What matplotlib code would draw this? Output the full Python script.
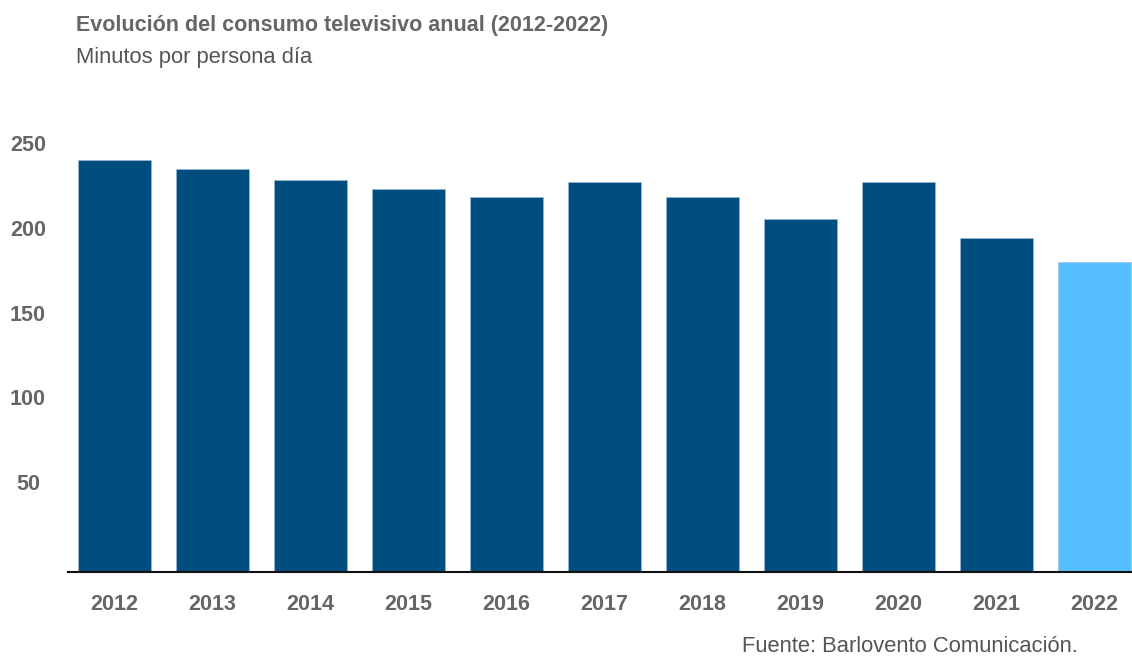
import matplotlib
matplotlib.use("Agg")
from matplotlib import pyplot as plt
import matplotlib.transforms as mtransforms

# data
years = ["2012", "2013", "2014", "2015", "2016", "2017", "2018", "2019", "2020", "2021", "2022"]
minutes = [243, 238, 231, 226, 221, 230, 221, 208, 230, 197, 183]
y_ticks = [50, 100, 150, 200, 250]

dark_blue = "#004e80"
light_blue = "#56bfff"
grey = "#666666"

plt.rcParams["font.family"] = ["Liberation Sans", "DejaVu Sans"]

fig = plt.figure(figsize=(11.32, 6.58), dpi=100)
ax = fig.add_axes([0.060, 0.1307, 0.940, 0.6698])

colors = [dark_blue] * (len(years) - 1) + [light_blue]
x = list(range(len(years)))
ax.bar(x, minutes, width=0.745, color=colors, edgecolor="#9fbcd4", linewidth=0.4)

ax.set_xlim(-0.474, 10.383)
ax.set_ylim(0, 260)
ax.set_xticks(x)
ax.set_xticklabels(years, fontsize=15.5, fontweight="bold", color=grey)
ax.set_yticks(y_ticks)
ax.set_yticklabels([str(v) for v in y_ticks], fontsize=15.5, fontweight="bold", color=grey)
ax.tick_params(axis="both", length=0)
ax.tick_params(axis="x", pad=16)
ax.tick_params(axis="y", pad=0)
# y labels are centred about 40px left of the axis, a little above their value
for lbl in ax.get_yticklabels():
    lbl.set_horizontalalignment("center")
    lbl.set_transform(lbl.get_transform() + mtransforms.ScaledTranslation(-0.40, 0.05, fig.dpi_scale_trans))

for s in ["top", "right", "left"]:
    ax.spines[s].set_visible(False)
ax.spines["bottom"].set_linewidth(1.5)
ax.spines["bottom"].set_color("#111111")

fig.text(76 / 1132, 1 - 25 / 658, "Evolución del consumo televisivo anual (2012-2022)",
         fontsize=15.5, fontweight="bold", color=grey, va="center", ha="left")
fig.text(76 / 1132, 1 - 57 / 658, "Minutos por persona día",
         fontsize=15.8, color="#555555", va="center", ha="left")
fig.text(742 / 1132, 1 - 647 / 658, "Fuente: Barlovento Comunicación.",
         fontsize=15.8, color="#555555", va="center", ha="left")

plt.savefig("out.png", dpi=100)
